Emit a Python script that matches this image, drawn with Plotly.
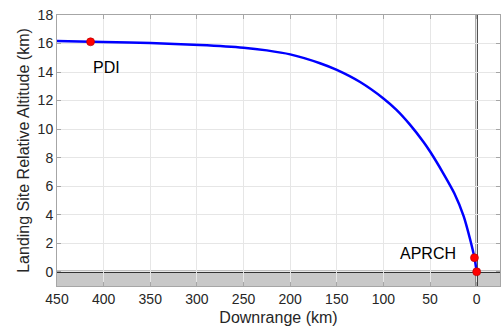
import plotly.graph_objects as go

# Trajectory
downrange_km = [450, 414, 400, 350, 297, 250, 225, 200, 168, 150, 125, 100, 86, 72, 57, 50, 36, 24, 14, 7, 2.4, 0]
altitude_km = [16.17, 16.12, 16.1, 16.03, 15.9, 15.71, 15.52, 15.24, 14.62, 14.15, 13.3, 12.15, 11.35, 10.35, 9.1, 8.43, 6.92, 5.5, 3.9, 2.26, 0.98, 0]

# Event markers
event_names = ["PDI", "APRCH", ""]
event_x = [414, 2.4, 0]
event_y = [16.12, 0.98, 0]

x_ticks = [450, 400, 350, 300, 250, 200, 150, 100, 50, 0]
y_ticks = [0, 2, 4, 6, 8, 10, 12, 14, 16, 18]

FONT = "Liberation Sans, Arial, sans-serif"

fig = go.Figure()

fig.add_trace(go.Scatter(
    x=downrange_km, y=altitude_km, mode="lines",
    line=dict(color="#0000ff", width=2.5, shape="spline", smoothing=0.8),
    hoverinfo="skip", showlegend=False,
))

fig.add_trace(go.Scatter(
    x=event_x, y=event_y, mode="markers",
    marker=dict(color="#ff0000", size=8, line=dict(color="#b00000", width=0.6)),
    showlegend=False, cliponaxis=False,
))

# labels
fig.add_annotation(x=event_x[0], y=event_y[0], text=event_names[0], showarrow=False,
                   xanchor="left", yanchor="middle", xshift=0, yshift=-26,
                   font=dict(family=FONT, size=16, color="#000000"))
fig.add_annotation(x=event_x[1], y=event_y[1], text=event_names[1], showarrow=False,
                   xanchor="right", yanchor="middle", xshift=-16, yshift=4,
                   font=dict(family=FONT, size=16, color="#000000"))

# gray ground band, zero lines
fig.add_shape(type="rect", xref="x domain", yref="y", x0=0, x1=1, y0=-1, y1=0,
              fillcolor="#c8c8c8", line=dict(width=0), layer="below")
fig.add_shape(type="line", xref="x domain", yref="y", x0=0, x1=1, y0=0, y1=0,
              line=dict(color="#000000", width=2), layer="below")
fig.add_shape(type="line", xref="x", yref="y domain", x0=0, x1=0, y0=0, y1=1,
              line=dict(color="#000000", width=2), layer="below")

axis_common = dict(
    showgrid=True, gridcolor="#e6e6e6", gridwidth=1,
    showline=True, linecolor="#a6a6a6", linewidth=1, mirror="ticks",
    ticks="inside", ticklen=4, tickcolor="#a6a6a6",
    tickfont=dict(family=FONT, size=14, color="#262626"),
    zeroline=False,
)

fig.update_xaxes(
    range=[450, -25], tickvals=x_ticks, ticktext=[str(v) for v in x_ticks],
    title=dict(text="Downrange (km)", font=dict(family=FONT, size=16, color="#262626"), standoff=6),
    **axis_common,
)
fig.update_yaxes(
    range=[-1, 18], tickvals=y_ticks, ticktext=[str(v) for v in y_ticks],
    title=dict(text="Landing Site Relative Altitude (km)", font=dict(family=FONT, size=16, color="#262626"), standoff=4),
    **axis_common,
)

fig.update_layout(
    width=503, height=335,
    margin=dict(l=57, r=3, t=15, b=49),
    paper_bgcolor="#ffffff", plot_bgcolor="#ffffff",
    font=dict(family=FONT),
)

fig.write_html("out.html")
